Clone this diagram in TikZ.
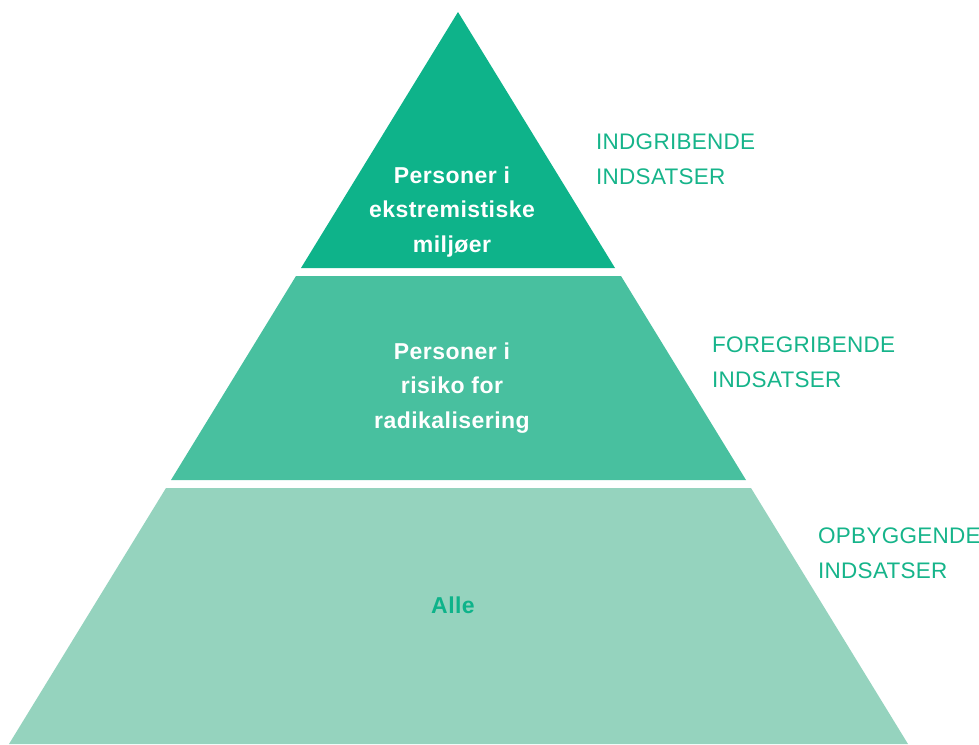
\documentclass[tikz,border=0pt]{standalone}
\usepackage{fontspec}
\setmainfont{Liberation Sans}
\definecolor{gtop}{RGB}{14,179,138}
\definecolor{gmid}{RGB}{72,192,159}
\definecolor{gbot}{RGB}{149,211,190}
\definecolor{glab}{RGB}{22,180,138}
\tikzset{
  band/.style={draw=none},
  inlabel/.style={font=\fontsize{23}{34.5}\selectfont\bfseries\addfontfeature{LetterSpace=2}, text=white, align=center, inner sep=0pt},
  sidelabel/.style={font=\fontsize{22.5}{35}\selectfont\addfontfeature{LetterSpace=1.2}, text=glab, align=left, inner sep=0pt, anchor=base west},
}
\begin{document}
\begin{tikzpicture}[x=1pt,y=-1pt]
\useasboundingbox (0,0) rectangle (979,744);
% pyramid bands
\fill[gtop] (458,12) -- (615,268) -- (301,268) -- cycle;
\fill[gmid] (296,276) -- (621,276) -- (746,480) -- (171,480) -- cycle;
\fill[gbot] (166,488) -- (751,488) -- (908,744) -- (9,744) -- cycle;
% inner labels (anchor = baseline of last line)
\node[inlabel, anchor=base] (t1) at (452,252) {Personer i\\ekstremistiske\\miljøer};
\node[inlabel, anchor=base] (t2) at (452,428) {Personer i\\risiko for\\radikalisering};
\node[inlabel, anchor=base, text=gtop] (t3) at (453,613) {Alle};
% side labels
\node[sidelabel] (s1) at (596,184) {INDGRIBENDE\\INDSATSER};
\node[sidelabel] (s2) at (712,387) {FOREGRIBENDE\\INDSATSER};
\node[sidelabel] (s3) at (818,578) {OPBYGGENDE\\INDSATSER};
\end{tikzpicture}
\end{document}
